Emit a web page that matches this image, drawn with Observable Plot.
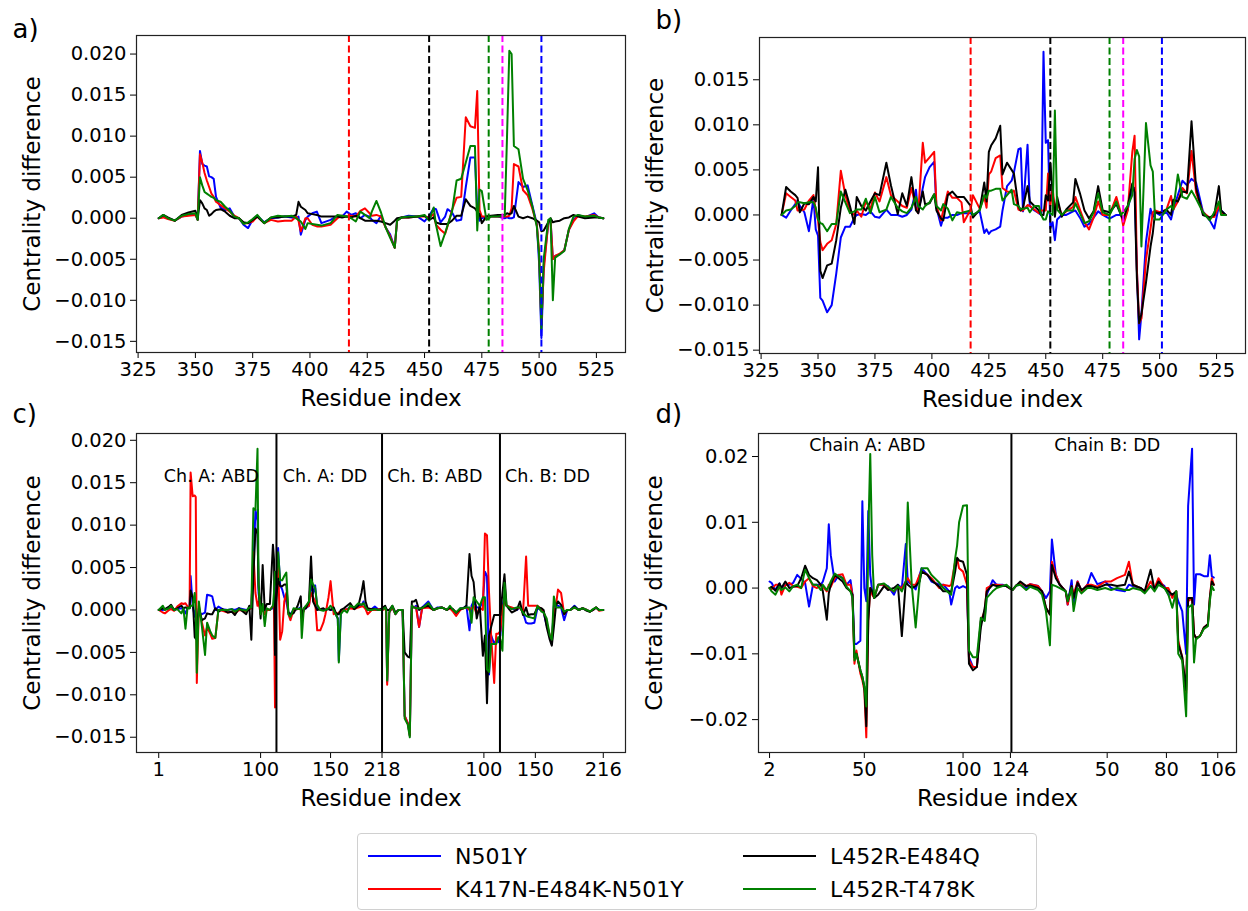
<!DOCTYPE html>
<html><head><meta charset="utf-8">
<script src="https://cdn.jsdelivr.net/npm/d3@7"></script>
<script src="https://cdn.jsdelivr.net/npm/@observablehq/plot@0.6"></script>
<style>
body{margin:0;background:#fff;}
#fig{position:relative;width:1248px;height:911px;background:#fff;font-family:"DejaVu Sans",sans-serif;overflow:hidden;}
#fig svg{position:absolute;overflow:visible;}
.legend{position:absolute;left:357px;top:833px;width:680px;height:77px;border:1px solid #d0d0d0;border-radius:4px;box-sizing:border-box;background:#fff;}
.lg-item{position:absolute;display:flex;align-items:center;height:26px;font-size:22px;font-family:"DejaVu Sans",sans-serif;color:#000;white-space:nowrap;}
.lg-line{display:inline-block;width:73px;height:2px;margin-right:14px;}
</style></head><body><div id="fig"></div>
<script>
// ---------- series ----------
const seriesNames = ["N501Y", "K417N-E484K-N501Y", "L452R-E484Q", "L452R-T478K"];
const seriesColors = ["#0000ff", "#ff0000", "#000000", "#008000"];

// ---------- panel a (values in units of 1e-3) ----------
const aResidue = [334,336,338,341,344,347,350,351,352,353, 354,355,356,357,358,359,361,363,365,367, 369,371,373,375,377,380,383,386,389,392, 394,395,396,398,399,401,403,405,409,412, 414,416,418,420,422,424,426,427,429,431, 433,435,437,438,440,443,447,450,452,454, 455,457,459,460,462,464,466,468,470,472, 473,474,475,477,479,482,485,486,487,488, 489,491,493,495,497,499,500,501,502,504, 505,506,507,509,511,513,515,517,520,524, 526,528];
const aN501Y = [0,0.2,0,-0.3,0.2,0.4,0.5,-0.2,8.2,6.6, 6.4,6.3,5.1,5.0,4.8,2.6,1.3,1.0,1.2,0.2, 0,-0.8,-1.2,-0.2,0.3,-0.5,0,0.1,0.2,0.1, 0,0.2,-2.0,-0.2,0.2,0.6,0.8,-0.6,-0.2,0.3, 0.2,0.8,0.4,0.6,0,0.4,0.2,-0.2,-0.6,0.3, -1.1,-2.0,-3.6,-0.3,0.1,0.3,0.2,-0.4,0.3,1.2, 1.1,-0.5,0.2,1.1,0.7,-0.3,-0.2,3.8,7.4,7.4, 1.0,-0.3,0,0.2,0.2,0.2,0,0.1,0,0, 0.1,4.4,3.8,4.0,1.6,-0.7,-5.5,-14.6,-5.8,-0.6, -0.3,-5.0,-4.6,-4.4,-3.9,-1.4,-0.2,0.4,0.1,0.6, 0.1,0];
const aK417N = [0,0.1,-0.1,-0.3,0.2,0.3,0.4,-0.2,7.8,6.8, 5.5,4.6,3.8,3.0,2.6,2.0,1.6,1.2,0.8,0.3, 0,-0.6,-0.6,-0.4,0.2,-0.6,-0.2,-0.4,-0.3,-0.3, 0.2,-0.3,-1.6,0,0,-0.8,-1.0,-1.0,-0.8,0, 0.3,0.2,0.3,0.2,0.9,1.2,0.6,0.3,0.4,0.2, -1.1,-2.2,-3.6,-0.3,0.1,0.1,0.2,0.2,0.1,0.5, -0.8,-1.4,-1.9,-1.0,1.0,2.5,2.6,12.3,11.2,11.0, 15.5,1.0,0.2,0.2,0.2,0.2,0.2,0.2,0.3,1.2, 6.6,6.3,3.4,2.8,1.2,-0.8,-4.0,-13.0,-6.5,-0.5, -0.2,-5.0,-4.6,-4.3,-3.9,-1.4,-0.4,0.3,0.2,0.4, 0.1,0];
const aL452R_E484Q = [0,0.4,0.1,-0.3,0.4,0.7,0.9,-0.1,2.2,1.8, 1.2,1.0,0.3,0.5,0.8,1.0,1.1,0.8,0.3,0, 0,-0.5,-0.6,-0.2,0.2,-0.6,0.1,0.1,0.2,0.2, 0.4,2.0,1.4,1.0,0.6,0.5,0.4,0.2,0.2,0.2, 0.1,0.2,0.1,0.3,0,-0.3,-0.3,-0.3,-0.3,-0.4, -0.6,-0.8,-0.3,0,0.1,0.1,0.2,0.3,-0.2,0.1, -0.5,-0.7,-0.7,-0.7,-0.3,0.3,0.3,2.3,1.5,1.2, 0.8,0.5,-0.6,0.2,0.3,0.4,0.4,0.6,0.5,0.6, 1.5,0.2,0,0.2,0,-0.3,-0.5,-1.6,-1.5,-0.5, 0,-0.5,-0.4,-0.3,0,0.1,0.4,0.2,0,0.1, 0.1,0];
const aL452R_T478K = [0,0.4,0,-0.3,0.3,0.5,0.6,-0.2,5.0,4.0, 3.2,3.0,2.8,2.6,2.5,2.2,2.0,1.4,0.9,0.2, 0,-0.7,-0.5,-0.1,0.4,-0.6,0.1,0.3,0.2,0.3, 0,-0.2,-0.4,-1.3,-0.6,-0.7,-0.8,-0.9,-0.6,0.4, 0.3,0.2,0,-0.4,0.8,0.4,0,0.8,2.1,0.7, -1.1,-2.4,-3.6,-0.3,0.1,0.2,0.2,0.4,-0.3,1.3, -0.8,-3.4,-1.8,-0.9,0.8,4.6,4.8,6.8,8.8,8.8, -1.5,3.5,3.3,-0.2,0.2,0.2,0.3,10.0,20.4,20.0, 8.8,8.4,4.8,3.4,1.5,-1.0,-4.5,-13.5,-5.0,-0.2, 0,-10.0,-4.8,-4.4,-4.0,-1.3,0.2,0.4,0.2,0.3, 0.1,0];

// ---------- panel b ----------
const bResidue = [334,336,338,340,341,342,344,346,348,349, 350,351,352,354,356,358,360,362,364,366, 367,369,371,373,375,377,380,382,385,387, 389,391,393,394,396,397,399,401,402,404, 405,407,409,411,413,414,417,418,421,423, 424,425,426,428,430,431,433,435,436,438, 439,440,442,443,445,447,448,449,450,451, 452,453,454,455,457,459,462,463,465,467, 469,471,473,475,478,481,483,484,486,488, 489,490,491,492,494,496,497,498,500,503, 505,506,508,510,512,514,516,519,522,524, 526,527,529];
const bN501Y = [0,-0.3,0.5,1.2,1.6,1.0,0.3,-1.8,1.9,-1.6, -2.3,-9.2,-9.5,-10.8,-10.0,-6.5,-2.5,-1.3,-1.3,-0.3, 0,0.1,0,0.4,-0.2,-0.3,0.6,0,0,-0.2, 0,0.6,2.8,0.2,3.0,4.2,5.3,5.9,0.8,-1.2, -0.3,-0.3,0,0,0.2,0.2,0.2,0,0.4,-2.0, -1.6,-2.1,-1.8,-1.6,-1.3,0.5,3.2,3.8,4.7,7.3, 7.4,0.4,7.8,1.0,0.5,0.2,0,18.1,8.0,8.3, -1.5,-0.8,-2.8,-0.5,0,0,0.4,0.5,-0.3,-1.3, -1.0,-0.3,0.4,0,-0.4,0,0,-0.6,0.6,3.0, 3.0,-6.0,-13.8,-11.0,-3.0,0.7,-0.2,0.3,0,0.3, -0.5,0.6,2.2,3.8,3.3,4.0,3.6,0.4,-0.6,-1.5, 1.0,0.5,0];
const bK417N = [0,2.4,2.0,1.6,0.5,0.5,0.6,1.6,2.2,0.5, -0.6,-3.0,-3.9,-3.2,-2.8,-1.0,4.9,2.2,0.4,0, 0.5,-0.2,1.5,0.7,2.5,1.5,4.2,2.2,1.5,1.0, 0.8,3.0,0.8,0.2,8.0,5.8,6.4,7.0,1.0,-0.6, 0.5,2.6,1.9,1.9,1.4,-0.8,0.6,2.2,0.7,2.0, 0.8,4.5,4.8,6.3,6.6,3.0,2.6,2.5,2.7,0.6, 0.5,0.5,1.1,1.0,0.6,0.2,0.5,0.5,0.5,4.6, 1.0,3.0,0.5,1.5,0,0.4,0.9,2.0,0.6,-0.8, -1.6,-0.3,1.5,0,0,2.0,0.2,-1.2,0.5,7.0, 8.8,-6.0,-12.0,-11.5,-5.0,-1.5,0.3,0.5,0.3,0.6, 2.1,0.6,1.5,3.0,2.4,7.1,2.5,0.3,-0.3,-0.2, 1.0,0.2,0];
const bL452R_E484Q = [0,3.1,2.6,2.2,1.9,0.3,1.3,1.2,2.0,1.5, 5.3,-6.2,-7.0,-5.6,-5.4,-2.8,0.8,2.8,1.0,-1.0, 2.0,1.0,0.5,1.5,2.4,2.2,5.8,3.3,0.1,2.4, 1.0,4.2,0.5,0.2,2.6,1.2,1.3,2.3,0.5,-0.4, -0.6,2.2,2.6,2.0,2.0,2.0,1.0,-0.3,0.6,3.6, 1.5,7.0,7.7,8.5,9.9,4.5,5.8,5.0,4.6,1.0, 0.5,0.8,3.2,1.5,1.0,0.5,0,0,2.2,1.6, 5.8,2.5,-0.2,2.0,-0.2,0.6,1.4,4.0,2.4,0.5, -0.4,0.4,3.2,0.5,0.3,1.2,0,-0.5,1.0,3.5, 2.5,-7.0,-12.0,-11.0,-7.5,-3.5,-2.0,0.3,0.2,0.6, 0,1.7,1.5,2.6,2.5,10.4,3.0,0,-0.3,0, 3.2,0.5,0];
const bL452R_T478K = [0,0.5,0.6,1.0,1.4,1.4,1.3,1.4,1.4,0.8, -0.5,-0.9,-1.0,-1.8,-1.0,-1.0,2.6,1.4,0.2,0.4, 0.6,0.6,1.8,0.2,2.0,0.3,0.6,2.0,0.8,0.4, 0.2,0.8,2.0,1.0,0.6,1.0,1.4,2.3,1.0,0.5, 1.2,0.7,-0.6,0.3,0.2,0.3,0.5,0,0.5,2.2, 1.9,2.7,2.7,2.9,2.9,1.6,2.2,2.8,1.2,1.0, 0.6,0.7,0.8,0.3,1.0,1.0,0,-0.5,-0.5,0.4, 0.2,0,11.6,0.6,0,0.5,0.5,1.3,0.2,-0.9, -0.7,0.3,2.4,0.3,0,1.5,0,0.3,1.0,2.2, 6.2,7.2,6.5,-3.5,10.2,5.5,4.8,-0.5,-0.5,0.6, 1.0,0.6,4.5,2.0,1.8,2.7,1.8,0.3,-0.6,0.3, 1.5,0,0];

// ---------- panel c (position along concatenated chains) ----------
const cIndex = [0,4,6,10,12,15,18,22,24,26, 28,30,31,33,35,36,37,39,42,45, 47,50,52,55,58,62,67,71,74,78, 82,85,88,90,92,94,96,97,99,101, 103,105,108,111,112,113,114,116,118,120, 122,124,126,128,131,135,138,139,141,143, 146,148,150,152,154,157,160,162,165,167, 170,172,174,175,177,180,183,186,190,194, 197,199,201,203,207,210,214,217,220,221, 222,224,227,230,233,237,239,242,244,246, 248,250,253,256,262,267,271,275,280,283, 286,289,293,296,299,302,304,306,309,312, 315,317,319,321,323,326,328,330,332,334, 336,338,343,348,351,354,357,359,362,365, 368,372,374,377,380,382,384,386,388,391, 394,397,400,404,408,412,416,419,422,425, 428,432];
const cN501Y = [0,0,0.1,0.2,0.3,0,0.1,0.2,0.1,-0.4, 0.2,0.3,4.0,0.5,-0.8,0,-1.2,-0.3,-0.5,-0.3, 1.8,1.7,1.6,0,0.4,0.1,0,0.1,0,0.2, 0.1,0,0.1,0.6,5.0,11.8,10.5,2.0,0,0.3, -0.3,0,0,0.3,0,-0.5,2.0,7.3,3.0,2.4, 1.5,1.0,-0.3,-0.5,0,0.1,0.3,-0.5,0,0.2, 0.5,3.0,2.0,2.9,0.2,0,0,0,0.2,0, 0,-0.5,-1.0,-6.0,-0.3,0,0.1,0.3,0.2,0.6, 0.5,1.0,0.2,0,0.1,0.4,0,0,0.2,0, -8.5,-0.3,0.3,-0.5,0,0,-12.5,-13.3,-14.8,0.5, 0.3,0.5,-2.0,0.3,1.0,0,0.3,0.3,0,0.3, 0,-0.6,0.2,0.2,0.5,-2.4,0.5,1.0,0.3,0.3, 1.0,4.5,4.0,-7.6,-3.0,-4.0,-3.5,-3.8,-3.0,0.5, 1.5,0.5,0.2,0,0.3,-0.3,-1.5,-1.6,-1.6,-1.5, 0.2,0,-0.3,-1.8,-3.0,-4.0,0.5,0.5,0.5,0.3, -1.2,0,0,0.5,0,0.2,0,-0.2,0,0.3, 0,0];
const cK417N = [0,-0.3,-0.4,0,0.1,-0.1,0.4,0.8,0.7,0.8, 0.4,0.3,16.2,13.4,13.5,13.3,-8.6,0.5,-1.5,-3.0, -2.0,-2.8,-3.4,-3.3,0,-0.1,-0.3,-0.2,-0.4,0, -0.1,-0.2,0.1,0.2,6.8,2.0,0.5,1.0,-0.5,0.2, -0.5,0,0,0.5,0.5,-11.5,0.5,5.9,-3.5,-2.5, 1.0,2.0,-0.5,-1.2,0,0.1,0.1,-1.0,0,0.3, 0.5,2.0,1.5,1.0,-2.4,-2.4,-1.5,-0.5,1.5,3.4, -0.5,-0.3,-0.5,-0.3,-0.2,0,0.1,0.2,0.1,0.3, 0.4,0.4,0.1,-0.5,0,0,0.1,0,0.1,0, -8.8,-0.3,0.3,-0.5,0,0,-12.5,-13.3,-14.8,0.5, 0.3,0.3,-2.0,0.2,0.3,0,0.2,0.3,0,0.2, -0.2,-0.7,0,0.2,0.3,0,0.2,0.5,-0.5,0.3, 0,9.0,8.8,2.0,-3.0,-8.6,-2.8,-2.8,-2.5,0.3, 1.0,0.5,0.3,0.1,0.3,-0.3,6.3,0.5,0.5,0.5, 0.5,0.1,-0.2,-1.5,-3.0,-3.5,-0.5,0.5,2.4,2.0, -0.5,0,0,0.3,0,0.2,0,-0.2,0,0.3, -0.1,0];
const cL452R_E484Q = [0,0.2,0.1,0.4,0.6,0,0.2,0.5,0.2,0.3, 0.2,0.2,2.3,1.5,-3.2,-3.4,-2.0,0.2,-1.2,-1.0, -0.4,-0.5,-0.5,0.2,-0.2,0.1,-0.3,-0.2,-0.6,0.2, -0.2,-0.5,0.5,-3.5,4.0,9.6,9.0,3.0,-1.0,5.3, 0,0.7,0.7,7.7,6.0,-5.3,1.0,3.7,2.8,2.8, 3.0,3.0,-0.3,-0.5,-0.4,0.5,1.6,-1.0,0.2,0.2, 1.0,6.3,1.0,0.5,0,0.1,0.2,0,0.1,0, 0.3,-0.3,-0.5,-0.5,0,0.2,0.5,0.8,0.1,0.5, 2.0,3.4,1.0,0.2,0.1,0.1,0,0.2,0.5,0.2, 0,0,0.5,-0.3,0,0,-5.0,-5.5,-5.6,1.0, 1.0,1.2,0,0.3,0.5,0,0.2,0.3,0,0.3, 0.1,-0.3,0.1,0.2,0.5,6.6,4.0,3.3,-1.0,0.5, -5.4,-3.0,-11.0,-3.0,-2.0,-0.6,-0.6,-0.6,-0.6,2.0, 4.2,0.5,-0.3,0,1.0,-0.6,0.3,-0.6,-0.5,-0.5, 0.3,0.2,0,-2.0,-3.5,-4.2,-2.0,0.5,1.0,0.6, -0.5,0,0,0.4,0,0.2,-0.1,-0.2,0,0.3, 0,0];
const cL452R_T478K = [0,0.5,0,0.2,0.5,0,0.1,-0.4,0.2,-2.2, 0.3,0.2,0.5,0.5,2.0,-0.5,-7.4,1.0,-2.0,-5.3, -1.5,-2.5,-3.0,-3.3,0,0,0,0.1,-0.2,0.1, 0,-0.1,0.3,0.3,12.0,11.8,19.0,3.0,-0.5,0.7, -1.9,0.2,0,0.5,2.0,4.5,3.0,6.8,3.5,3.5, 4.0,4.4,-0.5,-0.8,0.2,0.1,0.2,-3.3,0.2,0.5, 1.0,3.6,3.0,2.6,0.6,0,-0.1,0,0.2,0.5, 0,-0.5,-1.0,-6.2,-0.5,0,-0.3,0.5,0.3,0.8, 0.6,0.8,0.3,0,0,0.1,0,0,0.3,0, -8.3,-0.3,0.5,-0.5,0,0,-12.8,-13.5,-15.0,0.5, 0.3,0.2,0.2,0.2,0.8,0,0.2,0.3,0,0.5, 0,-0.3,0.2,0.2,0.3,0.3,-1.5,1.5,1.0,0.5, 1.5,1.5,-7.0,-7.3,-4.0,-4.0,-4.0,-3.2,-3.5,-4.8, 3.2,0.5,0.1,0.3,0.3,-0.3,-0.7,-0.8,-0.9,-1.0, 0.5,-0.2,-0.3,-1.0,-3.0,-3.5,1.6,0.3,0.3,0.3, -0.2,0,0,0.3,0,0.2,0,-0.2,0.1,0.3, 0,0];
const cTickPos = [0, 99, 167, 217, 316, 366, 432];
const cTickLabels = ["1", "100", "150", "218", "100", "150", "216"];
const cBoundaries = [114.4, 217, 331.6];
const cNotes = ["Ch. A: ABD", "Ch. A: DD", "Ch. B: ABD", "Ch. B: DD"];
const cNoteX = [5, 120.6, 222, 336.6];

// ---------- panel d ----------
const dIndex = [0,1,3,5,6,8,10,12,14,16, 18,20,22,24,26,27,29,30,31,33, 35,37,39,41,42,43,44,46,47,48, 49,50,51,52,53,55,58,60,63,65, 67,69,70,72,74,76,77,80,82,86, 88,91,92,94,95,96,98,100,101,103, 105,107,109,110,113,115,118,120,123,125, 127,130,132,136,138,140,142,143,145,147, 150,151,153,154,156,158,161,163,166,170, 173,176,180,182,184,188,190,193,195,197, 200,202,204,206,207,209,211,212,214,215, 216,218,220,222,223,224,225];
const dN501Y = [1.0,0.8,-0.3,0.7,0,0.5,0.5,0.8,2.0,1.4, 0.8,-2.8,0.5,0.5,0.5,1.0,3.0,9.7,5.0,1.0, 2.0,1.5,0.5,1.2,-1.0,-8.5,-8.5,-8.0,13.2,0, -2.0,11.7,2.0,-0.5,-1.5,0.5,0.5,0.3,-1.0,0.5, 0,6.7,1.0,0.5,-0.2,2.0,3.0,2.0,1.0,0.5, 0.5,-0.5,-2.5,0,0.3,0,0.3,0,-10.5,-12.0, -12.0,-5.0,-4.5,-1.0,1.2,0.5,0.5,0.3,-0.3,0.4, 0.5,0,0.6,0.3,-0.5,-1.5,-0.5,7.4,2.0,0.5, -0.5,-2.5,1.2,-2.5,1.0,-0.5,0.5,2.3,0.6,1.0, 0,-0.3,-0.5,0.5,0.3,0,-0.5,0.3,0,1.0, 0.3,-1.0,-1.0,-1.0,-2.0,-3.5,-10.0,12.5,21.2,-2.5, 2.1,2.1,1.8,1.8,5.0,1.8,1.6];
const dK417N = [0,-0.2,0.5,0.5,-1.0,0.4,0.8,0.3,0.2,0, 1.0,1.5,0.3,0,0.5,0.2,-0.5,0.5,0.2,1.5, 2.0,2.1,0.5,0.5,-1.0,-11.5,-9.5,-13.0,-14.0,-15.5, -22.7,-5.0,0,-1.0,-1.5,0.5,0.5,0,-0.5,0.2, 0,1.0,1.5,0.5,0.5,2.0,2.5,2.0,1.5,0, 0.5,0.3,0.5,4.0,4.5,3.0,2.5,0.5,-11.0,-12.0, -12.0,-5.0,-3.5,0,0.5,0.5,0.4,0.3,-0.3,0.4, 0.8,0.3,0.6,0.3,-0.5,-3.0,-4.0,4.0,2.0,0.5, -0.5,-2.5,0.3,-1.0,1.0,-0.5,0.5,0.5,0.2,1.0, 1.0,1.5,2.0,4.0,0.5,0,-0.6,1.0,0,1.5, 0,0,-1.5,-0.5,-8.0,-10.5,-16.0,-2.0,-1.5,-7.0, -7.6,-7.3,-6.0,-5.5,-1.5,1.5,0.5];
const dL452R_E484Q = [0,0.2,-0.4,0.7,0,1.0,0,0.2,0.3,1.5, 3.4,2.0,1.5,1.2,0.5,-0.5,-4.8,-0.8,0.5,2.0, 1.5,1.0,0,-0.5,-1.0,-10.5,-10.0,-12.5,-13.5,-15.0, -21.0,-5.0,0,-0.5,-1.5,-1.0,0.3,-0.3,0,0.5, -7.3,1.0,0.5,0,0.3,1.0,2.5,2.0,1.2,0.2, -0.5,-0.5,-0.6,2.5,4.6,4.2,4.0,2.0,-11.5,-12.5, -12.0,-6.0,-3.0,-0.5,0.5,0.3,0.3,0.3,-0.3,0.4, 1.0,0.3,0.4,0,-0.5,-3.0,-4.0,3.5,1.5,0.5, -0.5,-2.0,0.3,-1.5,0.8,-0.3,0.3,0.3,0,0.5, 0.5,0.3,0.5,2.5,0.5,0,-0.5,2.8,-0.3,1.0, 0,-0.5,-1.0,-0.5,-8.5,-10.5,-15.5,-1.5,-1.5,-7.0, -7.6,-7.3,-6.0,-5.5,-1.5,1.0,0.5];
const dL452R_T478K = [0,-0.5,-1.0,0.2,-0.3,0.1,-0.5,0.3,0.5,0, 2.8,1.5,0.5,0.5,-0.3,0.5,-0.3,0.3,1.0,2.2, 1.8,1.5,0.2,-0.5,-1.5,-11.0,-10.0,-12.5,-13.5,-15.0, -18.0,8.0,20.4,5.0,-1.5,0.5,0.7,0.2,-0.5,0.3, -0.5,1.0,13.0,0.5,-6.0,1.0,3.0,3.0,2.0,0.8, 0,-0.8,-1.0,4.5,6.5,10.0,12.5,12.6,-9.5,-10.5, -10.5,-4.5,-5.0,-1.5,-0.5,0,0.3,0.5,-0.3,0.4, 0.5,-0.3,0.2,-0.3,-1.0,-3.5,-8.7,0.5,0.3,0, -0.5,-2.0,0,-3.5,0,-0.8,0,0,-0.3,0, -0.3,0,-0.3,-0.3,0,-0.3,-0.8,0.3,-0.5,0.5, 0,-1.0,-3.0,-0.5,-10.0,-11.0,-19.5,-3.0,-2.5,-11.3, -7.8,-7.3,-6.2,-5.8,-2.0,0.3,-0.3];
const dTickPos = [0, 48, 98, 122, 171, 201, 227];
const dTickLabels = ["2", "50", "100", "124", "50", "80", "106"];
const dBoundaries = [122.5];
const dNotes = ["Chain A: ABD", "Chain B: DD"];
const dNoteX = [49.5, 171];

// mutation sites (panels a, b)
const mutationSites = [417, 452, 478, 484, 501];
const mutationColors = ["#ff0000", "#000000", "#008000", "#ff00ff", "#0000ff"];

const FONT = "DejaVu Sans";
const fig = document.getElementById("fig");

function signedFmt(digits) {
  return d => (d < 0 ? "\u2212" : "") + Math.abs(d / 1000).toFixed(digits);
}

function panel(cfg) {
  const lines = cfg.values.map((vals, s) =>
    Plot.line(cfg.x.map((x, j) => ({x, y: vals[j]})), {x: "x", y: "y", stroke: seriesColors[s], strokeWidth: 2}));
  const xLab = cfg.xLabels ? new Map(cfg.xTicks.map((t, i) => [t, cfg.xLabels[i]])) : null;
  const svg = Plot.plot({
    width: cfg.width, height: cfg.height,
    marginLeft: cfg.mL, marginRight: cfg.mR, marginTop: cfg.mT, marginBottom: cfg.mB,
    style: {fontFamily: FONT, fontSize: "19.5px", color: "#000", background: "transparent", overflow: "visible"},
    x: {domain: cfg.xDomain},
    y: {domain: cfg.yDomain},
    marks: [
      Plot.axisX({ticks: cfg.xTicks, tickFormat: xLab ? (d => xLab.get(d)) : (d => String(d)), tickSize: 6, tickPadding: 4, label: null}),
      Plot.axisY({ticks: cfg.yTicks, tickFormat: signedFmt(cfg.yDigits), tickSize: 6, tickPadding: 4, label: null}),
      ...lines,
      ...(cfg.rules || []),
      Plot.frame({stroke: "#222", strokeWidth: 1.2}),
      Plot.text(["Residue index"], {text: d => d, frameAnchor: "bottom", dy: 46, fontSize: 23, textAnchor: "middle", lineAnchor: "middle"}),
      Plot.text(["Centrality difference"], {text: d => d, frameAnchor: "left", dx: -104, rotate: -90, fontSize: 23, textAnchor: "middle", lineAnchor: "middle"}),
      Plot.text([cfg.letter], {text: d => d, frameAnchor: "top-left", dx: cfg.letterDx, dy: cfg.letterDy, fontSize: 26, textAnchor: "start", lineAnchor: "middle"}),
      ...(cfg.notes || [])
    ]
  });
  svg.style.position = "absolute";
  svg.style.left = cfg.left + "px";
  svg.style.top = cfg.top + "px";
  svg.style.overflow = "visible";
  fig.appendChild(svg);
}

const mutationRules = mutationSites.map((r, i) =>
  Plot.ruleX([r], {x: d => d, stroke: mutationColors[i], strokeWidth: 2, strokeDasharray: "7,3.5"}));

const abTicks = [325, 350, 375, 400, 425, 450, 475, 500, 525];

panel({
  left: 0, top: 0, width: 640, height: 410, mL: 136, mR: 15, mT: 35, mB: 58,
  x: aResidue, values: [aN501Y, aK417N, aL452R_E484Q, aL452R_T478K],
  xDomain: [324.3, 537.7], yDomain: [-16.36, 22.26],
  xTicks: abTicks, yTicks: [-15, -10, -5, 0, 5, 10, 15, 20], yDigits: 3,
  rules: mutationRules, letter: "a)", letterDx: -124, letterDy: -6
});

panel({
  left: 630, top: 0, width: 618, height: 410, mL: 129, mR: 3, mT: 37, mB: 57,
  x: bResidue, values: [bN501Y, bK417N, bL452R_E484Q, bL452R_T478K],
  xDomain: [324.3, 537.7], yDomain: [-15.37, 19.69],
  xTicks: abTicks, yTicks: [-15, -10, -5, 0, 5, 10, 15], yDigits: 3,
  rules: mutationRules, letter: "b)", letterDx: -104, letterDy: -17
});

panel({
  left: 0, top: 410, width: 640, height: 420, mL: 136, mR: 15, mT: 23, mB: 78,
  x: cIndex, values: [cN501Y, cK417N, cL452R_E484Q, cL452R_T478K],
  xDomain: [-21.6, 453.6], yDomain: [-16.8, 20.8],
  xTicks: cTickPos, xLabels: cTickLabels, yTicks: [-15, -10, -5, 0, 5, 10, 15, 20], yDigits: 3,
  rules: [Plot.ruleX(cBoundaries, {x: d => d, stroke: "#000", strokeWidth: 2})],
  notes: [Plot.text(cNotes, {x: (d, i) => cNoteX[i], y: () => 15.8, text: d => d, textAnchor: "start", lineAnchor: "middle", fontSize: 17.5})],
  letter: "c)", letterDx: -124, letterDy: -19
});

panel({
  left: 630, top: 410, width: 618, height: 420, mL: 128, mR: 12, mT: 23, mB: 78,
  x: dIndex, values: [dN501Y, dK417N, dL452R_E484Q, dL452R_T478K],
  xDomain: [-5.6, 236.5], yDomain: [-25.0, 23.5],
  xTicks: dTickPos, xLabels: dTickLabels, yTicks: [-20, -10, 0, 10, 20], yDigits: 2,
  rules: [Plot.ruleX(dBoundaries, {x: d => d, stroke: "#000", strokeWidth: 2})],
  notes: [Plot.text(dNotes, {x: (d, i) => dNoteX[i], y: () => 21.7, text: d => d, textAnchor: "middle", lineAnchor: "middle", fontSize: 17.5})],
  letter: "d)", letterDx: -103, letterDy: -19
});

// ---------- legend ----------
const legend = document.createElement("div");
legend.className = "legend";
const legendPos = [[10, 9], [10, 42], [385, 9], [385, 42]];
const legendOrder = [0, 1, 2, 3];
legendOrder.forEach((s, k) => {
  const item = document.createElement("div");
  item.className = "lg-item";
  item.style.left = legendPos[k][0] + "px";
  item.style.top = legendPos[k][1] + "px";
  const ln = document.createElement("span");
  ln.className = "lg-line";
  ln.style.background = seriesColors[s];
  const tx = document.createElement("span");
  tx.textContent = seriesNames[s];
  item.appendChild(ln); item.appendChild(tx);
  legend.appendChild(item);
});
fig.appendChild(legend);
</script></body></html>
